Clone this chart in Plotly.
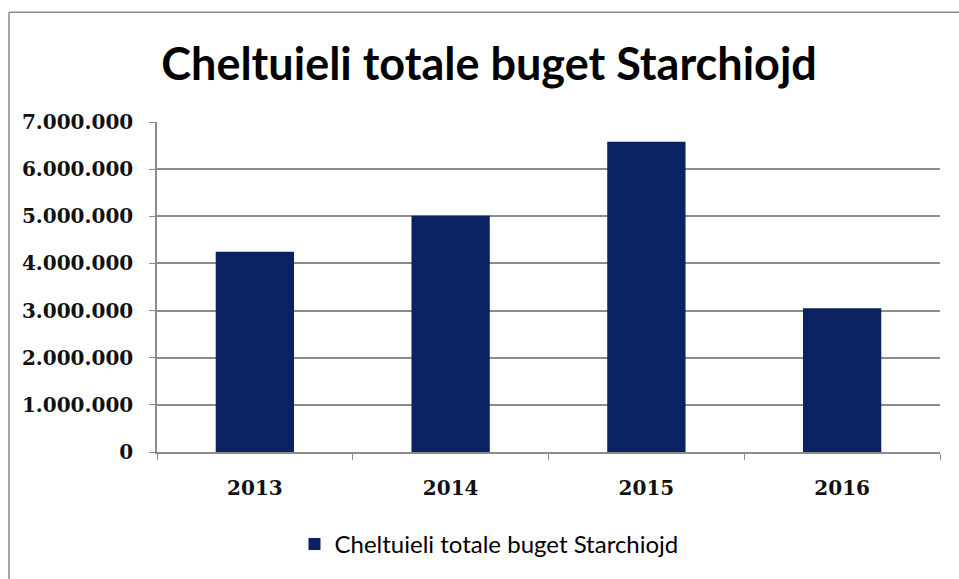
import plotly.graph_objects as go

# data
years = ["2013", "2014", "2015", "2016"]
cheltuieli = [4250000, 5010000, 6580000, 3050000]
tick_vals = [0, 1000000, 2000000, 3000000, 4000000, 5000000, 6000000, 7000000]
tick_text = ["0", "1.000.000", "2.000.000", "3.000.000", "4.000.000",
             "5.000.000", "6.000.000", "7.000.000"]
series_name = "Cheltuieli totale buget Starchiojd"
title_text = "Cheltuieli totale buget Starchiojd"

fig = go.Figure()
fig.add_trace(go.Bar(
    x=years,
    y=cheltuieli,
    name=series_name,
    marker=dict(color="#0b2262", line=dict(width=0)),
    showlegend=True,
))

grid_col = "#8c8c8c"
border = dict(color="#8a8a8a", width=1.5)
bx = -148 / 783          # left edge of the chart frame, in paper units
by = 1 + 111 / 334       # top edge of the chart frame
fig.update_layout(
    width=959,
    height=579,
    paper_bgcolor="white",
    plot_bgcolor="white",
    margin=dict(l=157, r=19, t=122, b=123),
    bargap=0.6,
    title=dict(
        text=title_text,
        font=dict(family="Lato", size=45, color="black", weight="bold"),
        x=0.51, xanchor="center",
        y=1 - 64 / 579, yanchor="middle", yref="container",
    ),
    legend=dict(
        orientation="h",
        x=0.424, xanchor="center",
        y=-0.28, yanchor="middle",
        font=dict(family="Lato", size=24, color="black"),
        itemwidth=30,
        bgcolor="rgba(0,0,0,0)",
    ),
    xaxis=dict(
        showline=True, linecolor=grid_col, linewidth=1.5,
        ticks="outside", tickson="boundaries", ticklen=6, tickcolor=grid_col,
        tickfont=dict(family="DejaVu Serif", size=20, color="#111111", weight="bold"),
        ticklabelstandoff=17,
        showgrid=False,
    ),
    yaxis=dict(
        range=[0, 7000000],
        tickvals=tick_vals, ticktext=tick_text,
        showline=True, linecolor=grid_col, linewidth=1.5,
        ticks="outside", ticklen=6, tickcolor=grid_col,
        showgrid=True, gridcolor=grid_col, gridwidth=1.5,
        tickfont=dict(family="DejaVu Serif", size=20, color="#111111", weight="bold"),
        ticklabelstandoff=12,
        zeroline=False,
    ),
    shapes=[
        dict(type="line", xref="paper", yref="paper",
             x0=bx, x1=bx, y0=-0.6, y1=by, line=border, layer="below"),
        dict(type="line", xref="paper", yref="paper",
             x0=bx, x1=1.025, y0=by, y1=by, line=border, layer="below"),
    ],
)

# page has a default 8px body margin and may get scrollbars; remove both
fig.write_html(
    "out.html", config={"displayModeBar": False},
    post_script="document.body.style.margin='0px';"
                "document.body.style.overflow='hidden';"
                "document.documentElement.style.overflow='hidden';",
)
